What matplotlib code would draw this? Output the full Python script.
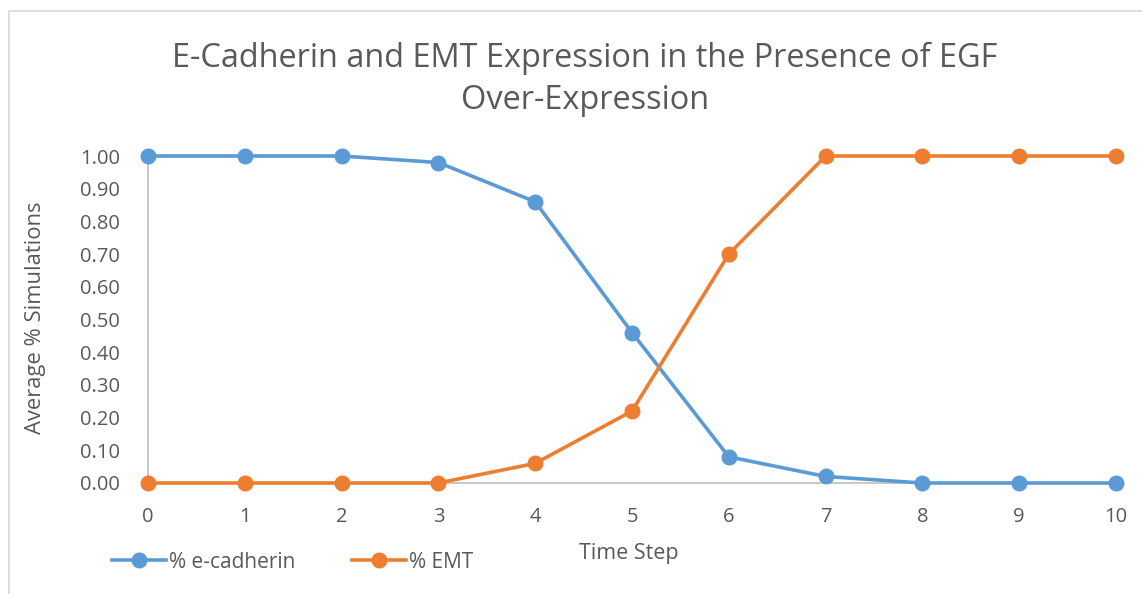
import matplotlib
matplotlib.use("Agg")
import matplotlib.pyplot as plt
from matplotlib.lines import Line2D
from matplotlib.patches import Rectangle

time_steps = [0, 1, 2, 3, 4, 5, 6, 7, 8, 9, 10]
ecadherin = [1.00, 1.00, 1.00, 0.98, 0.86, 0.46, 0.08, 0.02, 0.00, 0.00, 0.00]
emt = [0.00, 0.00, 0.00, 0.00, 0.06, 0.22, 0.70, 1.00, 1.00, 1.00, 1.00]
y_ticks = [0.0, 0.1, 0.2, 0.3, 0.4, 0.5, 0.6, 0.7, 0.8, 0.9, 1.0]

W, H = 1142, 594
plt.rcParams['font.family'] = ['Open Sans', 'DejaVu Sans']
fig = plt.figure(figsize=(W / 100, H / 100), dpi=100)
fig.patch.set_facecolor('white')

# chart frame (extends beyond image at right/bottom)
fig.patches.append(Rectangle((9 / W, -0.1), (W + 50) / W, (H - 11) / H + 0.1,
                             transform=fig.transFigure, fill=False,
                             edgecolor='#d9d9d9', linewidth=1.2))

ax = fig.add_axes([148 / W, 111 / H, 968 / W, 327 / H])
blue = '#5B9BD5'
orange = '#ED7D31'
txt = '#595959'

ax.plot(time_steps, ecadherin, color=blue, lw=2.6, marker='o', ms=10.5, clip_on=False, zorder=3)
ax.plot(time_steps, emt, color=orange, lw=2.6, marker='o', ms=10.5, clip_on=False, zorder=4)

ax.set_xlim(0, 10)
ax.set_ylim(0, 1)
ax.set_xticks(time_steps)
ax.set_xticklabels([str(t) for t in time_steps])
ax.set_yticks(y_ticks)
ax.set_yticklabels([f"{v:.2f}" for v in y_ticks])
ax.tick_params(length=0, labelsize=14.5, colors=txt)
ax.tick_params(axis='y', pad=20)
ax.tick_params(axis='x', pad=17)
for s in ['top', 'right']:
    ax.spines[s].set_visible(False)
for s in ['left', 'bottom']:
    ax.spines[s].set_color('#bfbfbf')
    ax.spines[s].set_linewidth(1.2)

fig.text(585 / W, 1 - 58 / H, 'E-Cadherin and EMT Expression in the Presence of EGF',
         ha='center', va='center', fontsize=23.4, color=txt)
fig.text(585 / W, 1 - 101 / H, 'Over-Expression',
         ha='center', va='center', fontsize=23.4, color=txt)

fig.text(36 / W, 1 - 318 / H, 'Average % Simulations', rotation=90,
         ha='center', va='center', fontsize=15.8, color=txt)
fig.text(629 / W, 1 - 553 / H, 'Time Step', ha='center', va='center', fontsize=15.5, color=txt)

handles = [Line2D([], [], color=blue, lw=2.6, marker='o', ms=10.5),
           Line2D([], [], color=orange, lw=2.6, marker='o', ms=10.5)]
fig.legend(handles, ['% e-cadherin', '% EMT'], loc='center left',
           bbox_to_anchor=(112 / W, 1 - 562 / H), ncol=2, frameon=False,
           fontsize=15, labelcolor=txt, handlelength=2.6, handletextpad=0.15,
           columnspacing=2.7, borderpad=0, borderaxespad=0)

fig.savefig('out.png', dpi=100)
